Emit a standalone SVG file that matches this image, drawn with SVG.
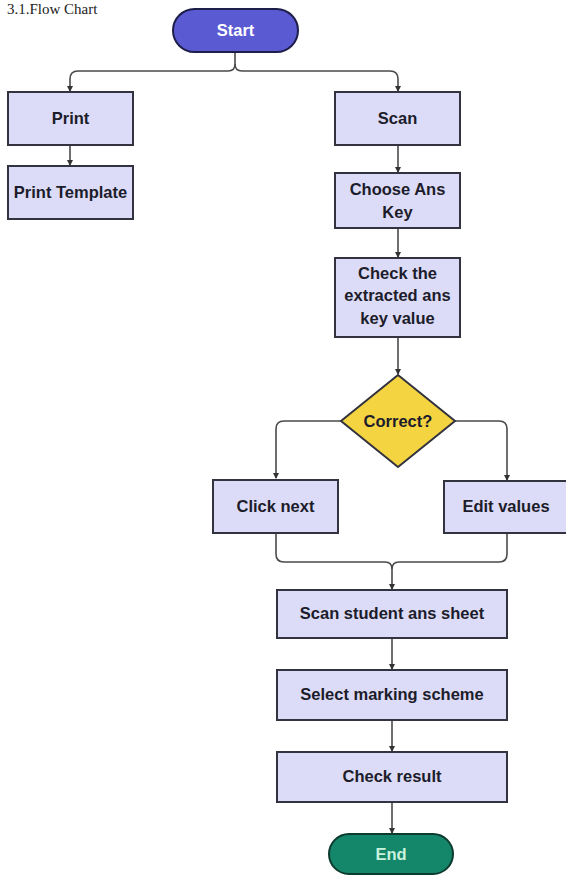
<svg xmlns="http://www.w3.org/2000/svg" width="566" height="875" viewBox="0 0 566 875">
<style>
.box{fill:#dcdcf8;stroke:#333340;stroke-width:2}
.t{font-family:"Liberation Sans",Arial,sans-serif;font-weight:bold;font-size:16.5px;fill:#1c1c2a;text-anchor:middle;dominant-baseline:central}
.c{fill:none;stroke:#4a4a4a;stroke-width:1.6}
</style>
<defs>
<marker id="ah" markerWidth="6" markerHeight="6" refX="5" refY="3" orient="auto" markerUnits="userSpaceOnUse">
<path d="M0,0 L6,3 L0,6 z" fill="#333"/>
</marker>
</defs>
<rect width="566" height="875" fill="#ffffff"/>
<text x="7" y="14" font-family="Liberation Serif,serif" font-size="15" fill="#222">3.1.Flow Chart</text>
<g id="connectors">
<path class="c" d="M235,52 V64 Q235,71 228,71 H78 Q70,71 70,79 V91" marker-end="url(#ah)"/>
<path class="c" d="M235,64 Q235,71 242,71 H390 Q398,71 398,79 V91" marker-end="url(#ah)"/>
<path class="c" d="M70,145 V165" marker-end="url(#ah)"/>
<path class="c" d="M398,145 V172" marker-end="url(#ah)"/>
<path class="c" d="M398,228 V257" marker-end="url(#ah)"/>
<path class="c" d="M398,337 V374" marker-end="url(#ah)"/>
<path class="c" d="M341,421 H284 Q276,421 276,429 V478" marker-end="url(#ah)"/>
<path class="c" d="M455,421 H499 Q507,421 507,429 V480" marker-end="url(#ah)"/>
<path class="c" d="M276,533 V554 Q276,562 284,562 H385 Q392,562 392,569 V589" marker-end="url(#ah)"/>
<path class="c" d="M507,533 V554 Q507,562 499,562 H399 Q392,562 392,569"/>
<path class="c" d="M392,638 V669" marker-end="url(#ah)"/>
<path class="c" d="M392,720 V751" marker-end="url(#ah)"/>
<path class="c" d="M392,802 V833" marker-end="url(#ah)"/>
</g>
<g id="start">
<rect x="173" y="9" width="125" height="43" rx="21.5" fill="#5a5ad2" stroke="#1e1e4a" stroke-width="2"/>
<text class="t" x="235.5" y="30" style="fill:#ffffff">Start</text>
</g>
<g id="print">
<rect class="box" x="8" y="92" width="125" height="53"/>
<text class="t" x="70.5" y="118">Print</text>
</g>
<g id="print-template">
<rect class="box" x="8" y="166" width="125" height="53"/>
<text class="t" x="70.5" y="192">Print Template</text>
</g>
<g id="scan">
<rect class="box" x="335" y="92" width="125" height="53"/>
<text class="t" x="397.5" y="118">Scan</text>
</g>
<g id="choose">
<rect class="box" x="335" y="173" width="125" height="55"/>
<text class="t" x="397.5" y="189">Choose Ans</text>
<text class="t" x="397.5" y="212">Key</text>
</g>
<g id="check-extracted">
<rect class="box" x="335" y="258" width="125" height="79"/>
<text class="t" x="397.5" y="273">Check the</text>
<text class="t" x="397.5" y="295">extracted ans</text>
<text class="t" x="397.5" y="318">key value</text>
</g>
<g id="correct">
<path d="M398,375 L455,421 L398,467 L341,421 z" fill="#f5d442" stroke="#333340" stroke-width="2"/>
<text class="t" x="398" y="421">Correct?</text>
</g>
<g id="click-next">
<rect class="box" x="213" y="480" width="125" height="53"/>
<text class="t" x="275.5" y="506">Click next</text>
</g>
<g id="edit-values">
<rect class="box" x="444" y="481" width="125" height="52"/>
<text class="t" x="506" y="506">Edit values</text>
</g>
<g id="scan-student">
<rect class="box" x="277" y="590" width="230" height="48"/>
<text class="t" x="392" y="613">Scan student ans sheet</text>
</g>
<g id="select-marking">
<rect class="box" x="277" y="670" width="230" height="50"/>
<text class="t" x="392" y="694">Select marking scheme</text>
</g>
<g id="check-result">
<rect class="box" x="277" y="752" width="230" height="50"/>
<text class="t" x="392" y="776">Check result</text>
</g>
<g id="end">
<rect x="329" y="834" width="124" height="40" rx="20" fill="#14876a" stroke="#0d3a2e" stroke-width="2"/>
<text class="t" x="391" y="854" style="fill:#c9f2dc">End</text>
</g>
</svg>
